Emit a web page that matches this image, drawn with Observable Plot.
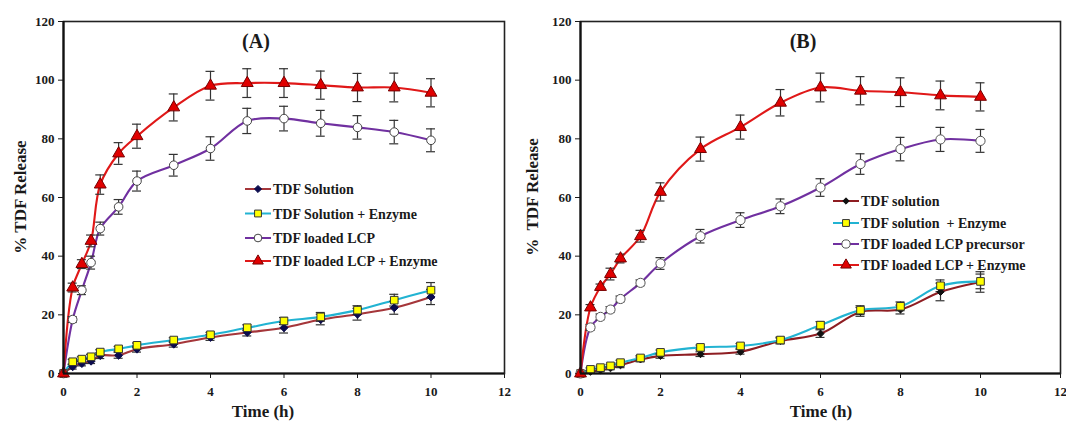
<!DOCTYPE html>
<html><head><meta charset="utf-8">
<script src="https://cdn.jsdelivr.net/npm/d3@7"></script>
<script src="https://cdn.jsdelivr.net/npm/@observablehq/plot@0.6"></script>
<style>
html,body{margin:0;padding:0;background:#fff;}
#wrap{position:relative;width:1066px;height:421px;overflow:hidden;background:#fff;}
#wrap svg{position:absolute;top:0;}
</style></head><body><div id="wrap"></div>
<script>
// ---------- data ----------
const times = [0, 0.25, 0.5, 0.75, 1, 1.5, 2, 3, 4, 5, 6, 7, 8, 9, 10];
const xTicks = [0, 2, 4, 6, 8, 10, 12];
const yTicks = [0, 20, 40, 60, 80, 100, 120];

const seriesA = ["TDF Solution", "TDF Solution + Enzyme", "TDF loaded LCP", "TDF loaded LCP + Enzyme"];
const seriesB = ["TDF solution", "TDF solution  + Enzyme", "TDF loaded LCP precursor", "TDF loaded LCP + Enzyme"];

const A_sol        = [0, 2.3, 3.4, 4.2, 6.1, 6.2, 8.3, 10, 12.3, 14, 15.6, 18.4, 20.2, 22.4, 26.1];
const A_solErr     = [0, 0.8, 0.8, 0.8, 1, 1, 1, 1, 1, 1.2, 1.8, 1.8, 2, 2.2, 2.6];
const A_solEnz     = [0, 4, 4.9, 5.7, 7.3, 8.4, 9.6, 11.4, 13.2, 15.6, 17.9, 19.3, 21.6, 25, 28.4];
const A_solEnzErr  = [0, 0.8, 0.8, 0.8, 0.8, 0.8, 0.8, 0.8, 0.8, 1, 1.2, 1.5, 1.5, 2, 2.6];
const A_lcp        = [0, 18.4, 28.4, 37.8, 49.4, 56.8, 65.6, 71, 76.7, 86.1, 86.9, 85.3, 83.9, 82.3, 79.5];
const A_lcpErr     = [0, 1, 1.5, 2.2, 2.2, 2.5, 3.4, 3.7, 4, 4.3, 4.2, 4.4, 4, 4, 3.9];
const A_lcpEnz     = [0, 29.3, 37.3, 45.2, 64.4, 75, 80.9, 90.7, 98.1, 99, 99, 98.3, 97.5, 97.5, 95.7];
const A_lcpEnzErr  = [0, 1.5, 1.5, 2, 3.3, 3.7, 4.1, 4.6, 4.9, 4.9, 4.9, 4.8, 4.8, 4.9, 4.8];

const B_sol        = [0, 0.6, 1.1, 1.8, 2.8, 4.8, 6, 6.6, 7.4, 11.1, 13.6, 21, 21.8, 27.8, 31.2];
const B_solErr     = [0, 0.5, 0.5, 0.5, 0.8, 0.8, 0.8, 0.8, 0.8, 1, 1.3, 1.5, 1.5, 3, 3.5];
const B_solEnz     = [0, 1.4, 2, 2.6, 3.7, 5.3, 7.2, 8.9, 9.4, 11.4, 16.5, 21.6, 22.9, 29.9, 31.4];
const B_solEnzErr  = [0, 0.5, 0.5, 0.5, 0.8, 0.8, 0.8, 0.8, 0.8, 1, 1.2, 1.5, 1.5, 2, 2.5];
const B_lcp        = [0, 15.7, 19.3, 21.8, 25.4, 30.9, 37.5, 46.8, 52.3, 57, 63.4, 71.4, 76.5, 79.8, 79.3];
const B_lcpErr     = [0, 1, 1, 1, 1, 1, 2, 2.3, 2.5, 2.5, 3, 3.5, 4, 4.1, 3.9];
const B_lcpEnz     = [0, 22.5, 29.5, 33.9, 39.2, 46.8, 61.9, 76.5, 84, 92.3, 97.5, 96.4, 95.9, 94.8, 94.3];
const B_lcpEnzErr  = [0, 1, 1, 2, 1.5, 2, 3.1, 4.1, 4.1, 4.5, 4.9, 4.8, 4.9, 4.9, 4.8];

// ---------- styles ----------
const FONT = "'Liberation Serif', 'Times New Roman', serif";
const styleA = [
  {line: "#a5363a", fill: "#0b0b4d", stroke: "#0b0b4d", symbol: "diamond2", r: 3.6},
  {line: "#22b3d2", fill: "#ffff00", stroke: "#333", symbol: "square", r: 4.3},
  {line: "#7030a0", fill: "#ffffff", stroke: "#444", symbol: "circle", r: 4.3},
  {line: "#e01818", fill: "#e00000", stroke: "#700", symbol: "triangle", r: 4.4}
];
const styleB = [
  {line: "#8e1d22", fill: "#111", stroke: "#111", symbol: "diamond2", r: 3.2},
  {line: "#22b3d2", fill: "#ffff00", stroke: "#333", symbol: "square", r: 4.3},
  {line: "#7030a0", fill: "#ffffff", stroke: "#555", symbol: "circle", r: 4.6},
  {line: "#e01818", fill: "#e00000", stroke: "#700", symbol: "triangle", r: 4.4}
];

function rows(names, vals, errs) {
  const out = [];
  names.forEach((s, i) => times.forEach((t, j) => out.push({series: s, idx: i, t, v: vals[i][j], e: errs[i][j]})));
  return out;
}
const rowsA = rows(seriesA, [A_sol, A_solEnz, A_lcp, A_lcpEnz], [A_solErr, A_solEnzErr, A_lcpErr, A_lcpEnzErr]);
const rowsB = rows(seriesB, [B_sol, B_solEnz, B_lcp, B_lcpEnz], [B_solErr, B_solEnzErr, B_lcpErr, B_lcpEnzErr]);

function panel(data, names, sty, cfg) {
  const capPx = 4.5;
  const pxPerUnit = (cfg.width - cfg.marginLeft - cfg.marginRight) / 12;
  const cap = capPx / pxPerUnit;
  const marks = [
    Plot.axisY({ticks: yTicks, tickSize: 5, tickPadding: 4, label: null, fontSize: 13, fontWeight: "bold", fontFamily: FONT}),
    Plot.axisX({ticks: xTicks, tickSize: 5, tickPadding: 8, label: null, fontSize: 13, fontWeight: "bold", fontFamily: FONT})
  ];
  names.forEach((s, i) => {
    const d = data.filter(r => r.series === s);
    marks.push(Plot.line(d, {x: "t", y: "v", stroke: sty[i].line, strokeWidth: 2.1, curve: "catmull-rom"}));
  });
  names.forEach((s, i) => {
    const d = data.filter(r => r.series === s && r.e > 0);
    marks.push(Plot.ruleX(d, {x: "t", y1: r => r.v - r.e, y2: r => r.v + r.e, stroke: "#333", strokeWidth: 1.2}));
    marks.push(Plot.ruleY(d, {y: r => r.v + r.e, x1: r => r.t - cap, x2: r => r.t + cap, stroke: "#333", strokeWidth: 1.2}));
    marks.push(Plot.ruleY(d, {y: r => r.v - r.e, x1: r => r.t - cap, x2: r => r.t + cap, stroke: "#333", strokeWidth: 1.2}));
  });
  names.forEach((s, i) => {
    const d = data.filter(r => r.series === s);
    marks.push(Plot.dot(d, {x: "t", y: "v", symbol: () => sty[i].symbol, r: sty[i].r, fill: sty[i].fill, stroke: sty[i].stroke, strokeWidth: 1}));
  });
  marks.push(Plot.frame({stroke: "#222", strokeWidth: 1.6}));
  marks.push(Plot.ruleX([0], {stroke: "#111", strokeWidth: 2.2}));
  marks.push(Plot.ruleY([0], {stroke: "#111", strokeWidth: 2.2}));
  return Plot.plot({
    width: cfg.width, height: 421,
    marginTop: 21, marginBottom: 48, marginLeft: cfg.marginLeft, marginRight: cfg.marginRight,
    style: {fontFamily: FONT, fontWeight: "bold", color: "#1a1a1a", background: "transparent", overflow: "visible"},
    x: {domain: [0, 12], label: null},
    y: {domain: [0, 120], label: null},
    symbol: {type: "identity"},
    marks
  });
}

const wrap = document.getElementById("wrap");
const cfgA = {width: 533, marginLeft: 63, marginRight: 29};
const cfgB = {width: 533, marginLeft: 47, marginRight: 6};
const svgA = panel(rowsA, seriesA, styleA, cfgA);
svgA.style.left = "0px";
wrap.appendChild(svgA);
const svgB = panel(rowsB, seriesB, styleB, cfgB);
svgB.style.left = "533px";
wrap.appendChild(svgB);

// ---------- overlay texts & legends ----------
const ov = d3.select(wrap).append("svg")
  .attr("width", 1066).attr("height", 421)
  .style("left", "0px").style("pointer-events", "none")
  .style("font-family", FONT).style("font-weight", "bold").style("fill", "#1a1a1a");

function titles(panelTitle, tx, xTitleX, yTitleX) {
  ov.append("text").attr("x", tx).attr("y", 48).attr("text-anchor", "middle").attr("font-size", 20).text(panelTitle);
  ov.append("text").attr("x", xTitleX).attr("y", 417).attr("text-anchor", "middle").attr("font-size", 17).text("Time (h)");
  ov.append("text").attr("transform", `translate(${yTitleX},197) rotate(-90)`).attr("text-anchor", "middle")
    .attr("font-size", 17).style("white-space", "pre").text(panelTitle === "(A)" ? "% TDF Release" : "%  TDF Release");
}
titles("(A)", 256, 263, 26);
titles("(B)", 803, 821, 538);

function legend(names, sty, x0, ys) {
  const sym = d3.scaleOrdinal().domain(["circle", "square", "triangle", "diamond2"])
    .range([d3.symbolCircle, d3.symbolSquare, d3.symbolTriangle, d3.symbolDiamond2]);
  names.forEach((s, i) => {
    const y = ys[i];
    ov.append("line").attr("x1", x0).attr("x2", x0 + 26).attr("y1", y).attr("y2", y)
      .attr("stroke", sty[i].line).attr("stroke-width", 2);
    ov.append("path").attr("transform", `translate(${x0 + 13},${y})`)
      .attr("d", d3.symbol(sym(sty[i].symbol), Math.PI * sty[i].r * sty[i].r * 0.8)())
      .attr("fill", sty[i].fill).attr("stroke", sty[i].stroke).attr("stroke-width", 1);
    ov.append("text").attr("x", x0 + 28).attr("y", y + 5).attr("font-size", 14)
      .style("white-space", "pre").text(s);
  });
}
legend(seriesA, styleA, 245, [189, 213.5, 238, 261]);
legend(seriesB, styleB, 833, [201, 223, 244, 265]);
</script></body></html>
